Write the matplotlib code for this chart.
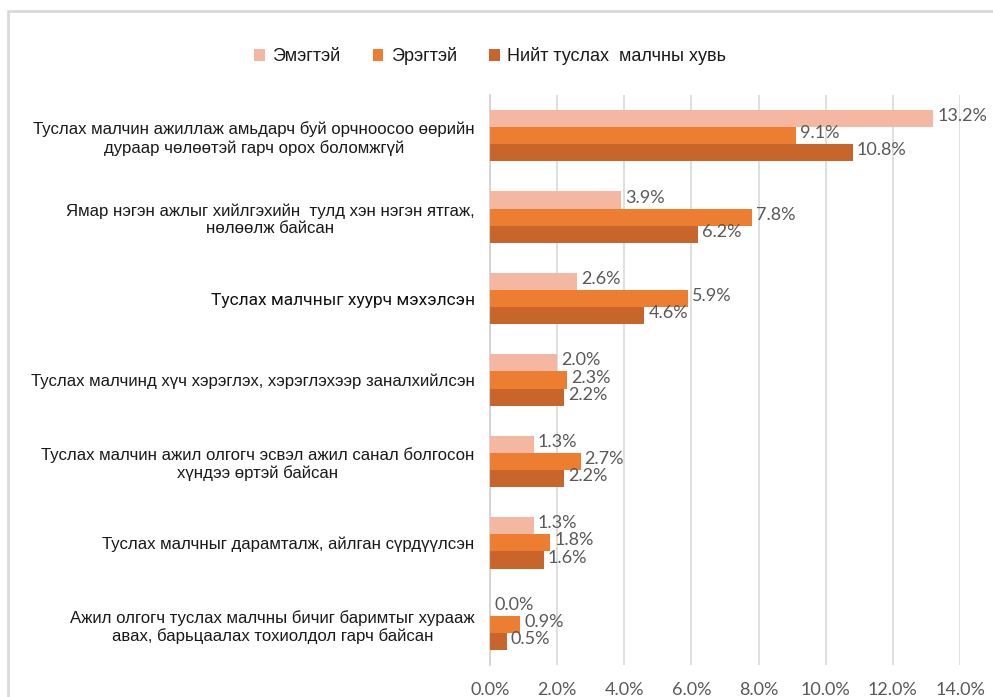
import matplotlib
matplotlib.use('Agg')
import matplotlib.pyplot as plt
from matplotlib.patches import Rectangle
import numpy as np

# categories (top to bottom) and values in percent
categories = [
    "Туслах малчин ажиллаж амьдарч буй орчноосоо өөрийн\nдураар чөлөөтэй гарч орох боломжгүй",
    "Ямар нэгэн ажлыг хийлгэхийн  тулд хэн нэгэн ятгаж,\nнөлөөлж байсан",
    "Туслах малчныг хуурч мэхэлсэн",
    "Туслах малчинд хүч хэрэглэх, хэрэглэхээр заналхийлсэн",
    "Туслах малчин ажил олгогч эсвэл ажил санал болгосон\nхүндээ өртэй байсан",
    "Туслах малчныг дарамталж, айлган сүрдүүлсэн",
    "Ажил олгогч туслах малчны бичиг баримтыг хураaж\nавах, барьцаалах тохиолдол гарч байсан",
]
female = [13.2, 3.9, 2.6, 2.0, 1.3, 1.3, 0.0]
male = [9.1, 7.8, 5.9, 2.3, 2.7, 1.8, 0.9]
total = [10.8, 6.2, 4.6, 2.2, 2.2, 1.6, 0.5]

series_names = ["Эмэгтэй", "Эрэгтэй", "Нийт туслах  малчны хувь"]
colors = ["#F4B8A2", "#ED7D31", "#C8652B"]
xticks = np.arange(0, 15, 2)

fig = plt.figure(figsize=(9.93, 6.97), dpi=100)
ax = fig.add_axes([490 / 993, 1 - 665 / 697, 470 / 993, 570 / 697])

# light frame around the chart area
fig.patches.append(Rectangle((8 / 993, -0.1), 1.1, 1 - 11 / 697 + 0.1,
                             transform=fig.transFigure, fill=False,
                             edgecolor="#d9d9d9", linewidth=2))

y = np.arange(len(categories))
h = 0.21
label_col = "#595959"
num_font = ["Lato", "DejaVu Sans"]
for k, (vals, name, col) in enumerate(zip([female, male, total], series_names, colors)):
    pos = y + (k - 1) * h
    ax.barh(pos, vals, height=h, color=col, label=name, zorder=3)
    for p, v in zip(pos, vals):
        ax.text(v + 0.12, p - 0.03, f"{v:.1f}%", va="center", ha="left",
                fontsize=13, color=label_col, family=num_font)

ax.set_ylim(len(categories) - 0.5, -0.5)
ax.set_xlim(0, 14)
ax.set_xticks(xticks)
ax.set_xticklabels([f"{t:.1f}%" for t in xticks], family=num_font,
                   fontsize=13, color=label_col)
ax.tick_params(axis="x", length=0, pad=12)
ax.tick_params(axis="y", length=0, pad=11)
ax.xaxis.grid(True, color="#d9d9d9", linewidth=1.2, zorder=0)
for s in ["top", "right", "bottom"]:
    ax.spines[s].set_visible(False)
ax.spines["left"].set_color("#d0d0d0")
ax.spines["left"].set_linewidth(1.2)

ax.set_yticks(y)
ax.set_yticklabels(categories, family=["Liberation Sans", "DejaVu Sans"],
                   fontsize=12.1, color="#1a1a1a")
for i, lbl in enumerate(ax.get_yticklabels()):
    lbl.set_multialignment("center")
    if i == 2:
        lbl.set_family(["Roboto", "DejaVu Sans"])
        lbl.set_fontsize(12.5)
        lbl.set_color("#111111")
        lbl.set_bbox(dict(facecolor="white", edgecolor="none", pad=3))

ax.legend(loc="upper center", bbox_to_anchor=(0.0, 1.112), ncol=3, frameon=False,
          prop={"family": ["Liberation Sans", "DejaVu Sans"], "size": 13},
          handlelength=0.6, handleheight=0.6, handletextpad=0.4, columnspacing=1.8,
          labelcolor="#1a1a1a")

fig.savefig("out.png", dpi=100)
